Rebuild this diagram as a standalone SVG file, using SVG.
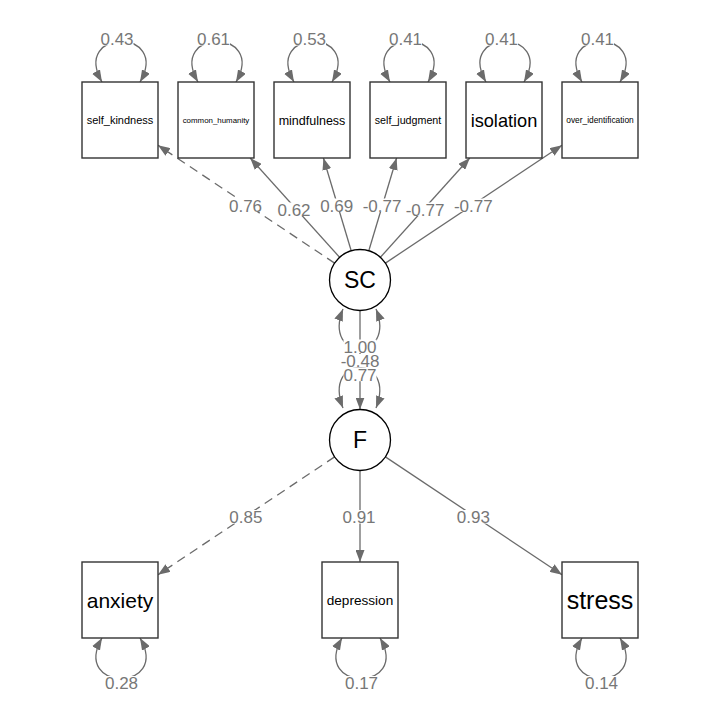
<svg xmlns="http://www.w3.org/2000/svg" width="720" height="720" viewBox="0 0 720 720">
<defs>
<marker id="ah" markerUnits="userSpaceOnUse" markerWidth="12" markerHeight="9" refX="12" refY="4.5" orient="auto-start-reverse" viewBox="0 0 12 9">
<path d="M0,0 L12,4.5 L0,9 z" fill="#6b6b6b"/>
</marker>
<style>
.bg{fill:#ffffff}
.box{fill:#ffffff;stroke:#333333;stroke-width:1.4}
.lat{fill:#ffffff;stroke:#000000;stroke-width:1.3}
.e{fill:none;stroke:#6b6b6b;stroke-width:1.3;marker-end:url(#ah)}
.d{stroke-dasharray:9 6}
.lp{fill:none;stroke:#6b6b6b;stroke-width:1.3;marker-start:url(#ah);marker-end:url(#ah)}
.nt{font-family:"Liberation Sans",Arial,sans-serif;fill:#000000;text-anchor:middle}
.el{font-family:"Liberation Sans",Arial,sans-serif;font-size:17px;fill:#777777;text-anchor:middle}
.lb{fill:#ffffff}
</style>
</defs>
<rect class="bg" x="0" y="0" width="720" height="720"/>

<g id="connectors">
<!-- SC to indicators -->
<path class="e d" d="M334.6,263.1 L158,145.3"/>
<path class="e" d="M339.6,257.3 L250.2,158"/>
<path class="e" d="M351.2,250.8 L323.4,158"/>
<path class="e" d="M368.8,250.8 L396.6,158"/>
<path class="e" d="M380.4,257.3 L469.8,158"/>
<path class="e" d="M385.4,263.1 L562,145.3"/>
<!-- F to indicators -->
<path class="e d" d="M334.6,456.9 L158,574.7"/>
<path class="e" d="M360,470.5 L360,562"/>
<path class="e" d="M385.4,456.9 L562,574.7"/>
<!-- SC to F -->
<path class="e" d="M360,310.5 L360,409.5"/>
<!-- top loops -->
<path class="lp" d="M102,82 C71,28 171,28 140,82"/>
<path class="lp" d="M198,82 C167,28 267,28 236,82"/>
<path class="lp" d="M294,82 C263,28 363,28 332,82"/>
<path class="lp" d="M390,82 C359,28 459,28 428,82"/>
<path class="lp" d="M486,82 C455,28 555,28 524,82"/>
<path class="lp" d="M582,82 C551,28 651,28 620,82"/>
<!-- bottom loops -->
<path class="lp" d="M102,638 C71,692 171,692 140,638"/>
<path class="lp" d="M342,638 C311,692 411,692 380,638"/>
<path class="lp" d="M582,638 C551,692 651,692 620,638"/>
<!-- SC / F loops -->
<path class="lp" d="M343,309 C322,362 397,362 376,309"/>
<path class="lp" d="M343,408 C322,354 397,354 376,408"/>
</g>

<g id="edge-labels">
<rect class="lb" x="100.5" y="32" width="33" height="13.5"/>
<text class="el" x="117" y="45">0.43</text>
<rect class="lb" x="197" y="32" width="33" height="13.5"/>
<text class="el" x="213.5" y="45">0.61</text>
<rect class="lb" x="293" y="32" width="33" height="13.5"/>
<text class="el" x="309.5" y="45">0.53</text>
<rect class="lb" x="389" y="32" width="33" height="13.5"/>
<text class="el" x="405.5" y="45">0.41</text>
<rect class="lb" x="485" y="32" width="33" height="13.5"/>
<text class="el" x="501.5" y="45">0.41</text>
<rect class="lb" x="581" y="32" width="33" height="13.5"/>
<text class="el" x="597.5" y="45">0.41</text>

<rect class="lb" x="105" y="676" width="33" height="13.5"/>
<text class="el" x="121.5" y="689">0.28</text>
<rect class="lb" x="345" y="676" width="33" height="13.5"/>
<text class="el" x="361.5" y="689">0.17</text>
<rect class="lb" x="585" y="676" width="33" height="13.5"/>
<text class="el" x="601.5" y="689">0.14</text>

<rect class="lb" x="229" y="198.5" width="33" height="13.5"/>
<text class="el" x="245.5" y="211.5">0.76</text>
<rect class="lb" x="277.5" y="202.5" width="33" height="13.5"/>
<text class="el" x="294" y="215.5">0.62</text>
<rect class="lb" x="320.2" y="198.5" width="33" height="13.5"/>
<text class="el" x="336.7" y="211.5">0.69</text>
<rect class="lb" x="362.6" y="198.5" width="38.7" height="13.5"/>
<text class="el" x="382" y="211.5">-0.77</text>
<rect class="lb" x="405.6" y="202.5" width="38.7" height="13.5"/>
<text class="el" x="425" y="215.5">-0.77</text>
<rect class="lb" x="454" y="198.5" width="38.7" height="13.5"/>
<text class="el" x="473.3" y="211.5">-0.77</text>

<rect class="lb" x="343.5" y="339.5" width="33" height="13.5"/>
<text class="el" x="360" y="352.5">1.00</text>
<rect class="lb" x="340.6" y="354" width="38.7" height="13.5"/>
<text class="el" x="360" y="367">-0.48</text>
<rect class="lb" x="343.5" y="367.7" width="33" height="13.5"/>
<text class="el" x="360" y="380.7">0.77</text>

<rect class="lb" x="229.3" y="510" width="33" height="13.5"/>
<text class="el" x="245.8" y="523">0.85</text>
<rect class="lb" x="342.5" y="510" width="33" height="13.5"/>
<text class="el" x="359" y="523">0.91</text>
<rect class="lb" x="456.8" y="510" width="33" height="13.5"/>
<text class="el" x="473.3" y="523">0.93</text>
</g>

<g id="node-self_kindness">
<rect class="box" x="82" y="82" width="76" height="76"/>
<text class="nt" x="120" y="124" font-size="11">self_kindness</text>
</g>
<g id="node-common_humanity">
<rect class="box" x="178" y="82" width="76" height="76"/>
<text class="nt" x="216" y="122.8" font-size="7.9">common_humanity</text>
</g>
<g id="node-mindfulness">
<rect class="box" x="274" y="82" width="76" height="76"/>
<text class="nt" x="312" y="124.5" font-size="12.5">mindfulness</text>
</g>
<g id="node-self_judgment">
<rect class="box" x="370" y="82" width="76" height="76"/>
<text class="nt" x="408" y="123.8" font-size="10.7">self_judgment</text>
</g>
<g id="node-isolation">
<rect class="box" x="466" y="82" width="76" height="76"/>
<text class="nt" x="504" y="126.5" font-size="18.2">isolation</text>
</g>
<g id="node-over_identification">
<rect class="box" x="562" y="82" width="76" height="76"/>
<text class="nt" x="600" y="123" font-size="8.4">over_identification</text>
</g>
<g id="node-SC">
<circle class="lat" cx="360" cy="280" r="30.5"/>
<text class="nt" x="360" y="288.2" font-size="23">SC</text>
</g>
<g id="node-F">
<circle class="lat" cx="360" cy="440" r="30.5"/>
<text class="nt" x="360" y="447.5" font-size="23">F</text>
</g>
<g id="node-anxiety">
<rect class="box" x="82" y="562" width="76" height="76"/>
<text class="nt" x="120" y="607.5" font-size="21">anxiety</text>
</g>
<g id="node-depression">
<rect class="box" x="322" y="562" width="76" height="76"/>
<text class="nt" x="360" y="604.9" font-size="13.6">depression</text>
</g>
<g id="node-stress">
<rect class="box" x="562" y="562" width="76" height="76"/>
<text class="nt" x="600" y="609" font-size="25">stress</text>
</g>
</svg>
